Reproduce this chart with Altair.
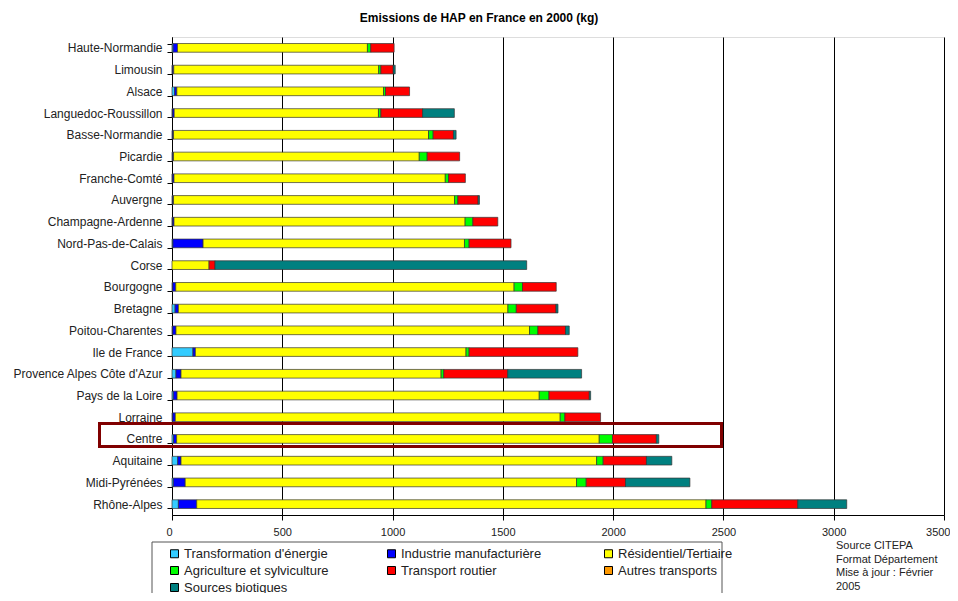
import altair as alt
import pandas as pd

regions = ["Haute-Normandie", "Limousin", "Alsace", "Languedoc-Roussillon", "Basse-Normandie",
           "Picardie", "Franche-Comté", "Auvergne", "Champagne-Ardenne", "Nord-Pas-de-Calais",
           "Corse", "Bourgogne", "Bretagne", "Poitou-Charentes", "Ile de France",
           "Provence Alpes Côte d'Azur", "Pays de la Loire", "Lorraine", "Centre", "Aquitaine",
           "Midi-Pyrénées", "Rhône-Alpes"]

categories = ["Transformation d'énergie", "Industrie manufacturière", "Résidentiel/Tertiaire",
              "Agriculture et sylviculture", "Transport routier", "Autres transports",
              "Sources biotiques"]
colors = ["#33CCFF", "#0000FF", "#FFFF00", "#00FF00", "#FF0000", "#FF9900", "#008080"]

energie = [5, 2, 12, 2, 3, 3, 2, 3, 2, 4, 0, 3, 14, 3, 95, 18, 6, 3, 7, 26, 6, 29]
industrie = [20, 6, 10, 8, 4, 4, 7, 4, 7, 137, 0, 14, 15, 15, 11, 23, 17, 12, 14, 15, 54, 83]
residentiel = [861, 929, 937, 926, 1156, 1114, 1230, 1274, 1320, 1185, 168, 1534, 1494, 1603,
               1227, 1179, 1642, 1745, 1916, 1884, 1774, 2309]
agriculture = [15, 10, 9, 11, 21, 36, 15, 15, 35, 21, 0, 38, 38, 38, 14, 12, 44, 21, 60, 30, 44, 26]
transport = [106, 56, 109, 189, 92, 147, 76, 92, 113, 190, 27, 153, 180, 125, 493, 290, 183,
             162, 199, 196, 178, 390]
autres = [0] * 22
biotiques = [0, 9, 0, 144, 12, 0, 0, 6, 0, 0, 1413, 0, 9, 17, 0, 335, 6, 0, 11, 115, 292, 222]

series = [energie, industrie, residentiel, agriculture, transport, autres, biotiques]
x_ticks = [0, 500, 1000, 1500, 2000, 2500, 3000, 3500]
title_text = "Emissions de HAP en France en 2000 (kg)"
source_lines = ["Source CITEPA", "Format Département", "Mise à jour : Février", "2005"]
highlight = ["Centre"]

rows = []
for ci, (cat, vals) in enumerate(zip(categories, series)):
    for r, v in zip(regions, vals):
        if v > 0:
            rows.append({"Region": r, "Secteur": cat, "kg": v, "ordre": ci})
df = pd.DataFrame(rows)

FONT = "Liberation Sans"

bars = alt.Chart(df).mark_bar(stroke="#333333", strokeWidth=0.7).encode(
    y=alt.Y("Region:N", sort=regions,
            scale=alt.Scale(domain=regions, paddingInner=0.6, paddingOuter=0.3),
            axis=alt.Axis(title=None, labelFont=FONT, labelFontSize=12, labelColor="#222222",
                          tickBand="extent", tickSize=5, labelPadding=5, domainColor="black",
                          tickColor="black", grid=False)),
    x=alt.X("kg:Q", stack="zero",
            scale=alt.Scale(domain=[0, 3500], nice=False),
            axis=alt.Axis(title=None, values=x_ticks, format="d", tickSize=5, labelPadding=6,
                          grid=True, gridColor="black", gridWidth=1, domainColor="black",
                          tickColor="black", labelFont=FONT, labelFontSize=11,
                          labelColor="#222222", labelFlush=True, labelFlushOffset=6)),
    color=alt.Color("Secteur:N", scale=alt.Scale(domain=categories, range=colors),
                    legend=alt.Legend(title=None, orient="none", legendX=-4, legendY=510,
                                      direction="horizontal", columns=3, gridAlign="all",
                                      values=categories, columnPadding=56,
                                      rowPadding=3, padding=0, labelFont=FONT,
                                      labelFontSize=13, labelColor="#222222",
                                      symbolType="square", symbolSize=64,
                                      symbolStrokeColor="black", symbolStrokeWidth=1,
                                      labelOffset=3)),
    order=alt.Order("ordre:Q", sort="ascending"),
)

hl_df = pd.DataFrame({"Region": highlight})
hl = alt.Chart(hl_df).mark_rect(fill=None, fillOpacity=0, stroke="#800000", strokeWidth=3).encode(
    x=alt.value(-72.5), x2=alt.value(549.5), y=alt.value(386.5), y2=alt.value(409.5)
)

legend_box = alt.Chart(hl_df).mark_rect(fill=None, fillOpacity=0, stroke="#555555",
                                        strokeWidth=1).encode(
    x=alt.value(-20), x2=alt.value(550), y=alt.value(505), y2=alt.value(580)
)

src_df = pd.DataFrame({"t": ["\n".join(source_lines)]})
src = alt.Chart(src_df).mark_text(align="left", baseline="top", font=FONT, fontSize=11,
                                  lineBreak="\n", lineHeight=13.5, color="#222222").encode(
    x=alt.value(664), y=alt.value(503), text="t:N"
)

ttl_df = pd.DataFrame({"t": [title_text]})
ttl = alt.Chart(ttl_df).mark_text(align="center", baseline="middle", font=FONT, fontSize=12,
                                  fontWeight="bold", color="black").encode(
    x=alt.value(307), y=alt.value(-19), text="t:N"
)

chart = alt.layer(bars, hl, legend_box, src, ttl).properties(
    width=772, height=478,
    autosize=alt.AutoSizeParams(type="none"),
    padding={"left": 164, "top": 29, "right": 6, "bottom": 78},
).configure_view(stroke="#999999", strokeWidth=1).configure(background="white")

chart.save("out.html", embed_options={"renderer": "svg", "actions": False})
